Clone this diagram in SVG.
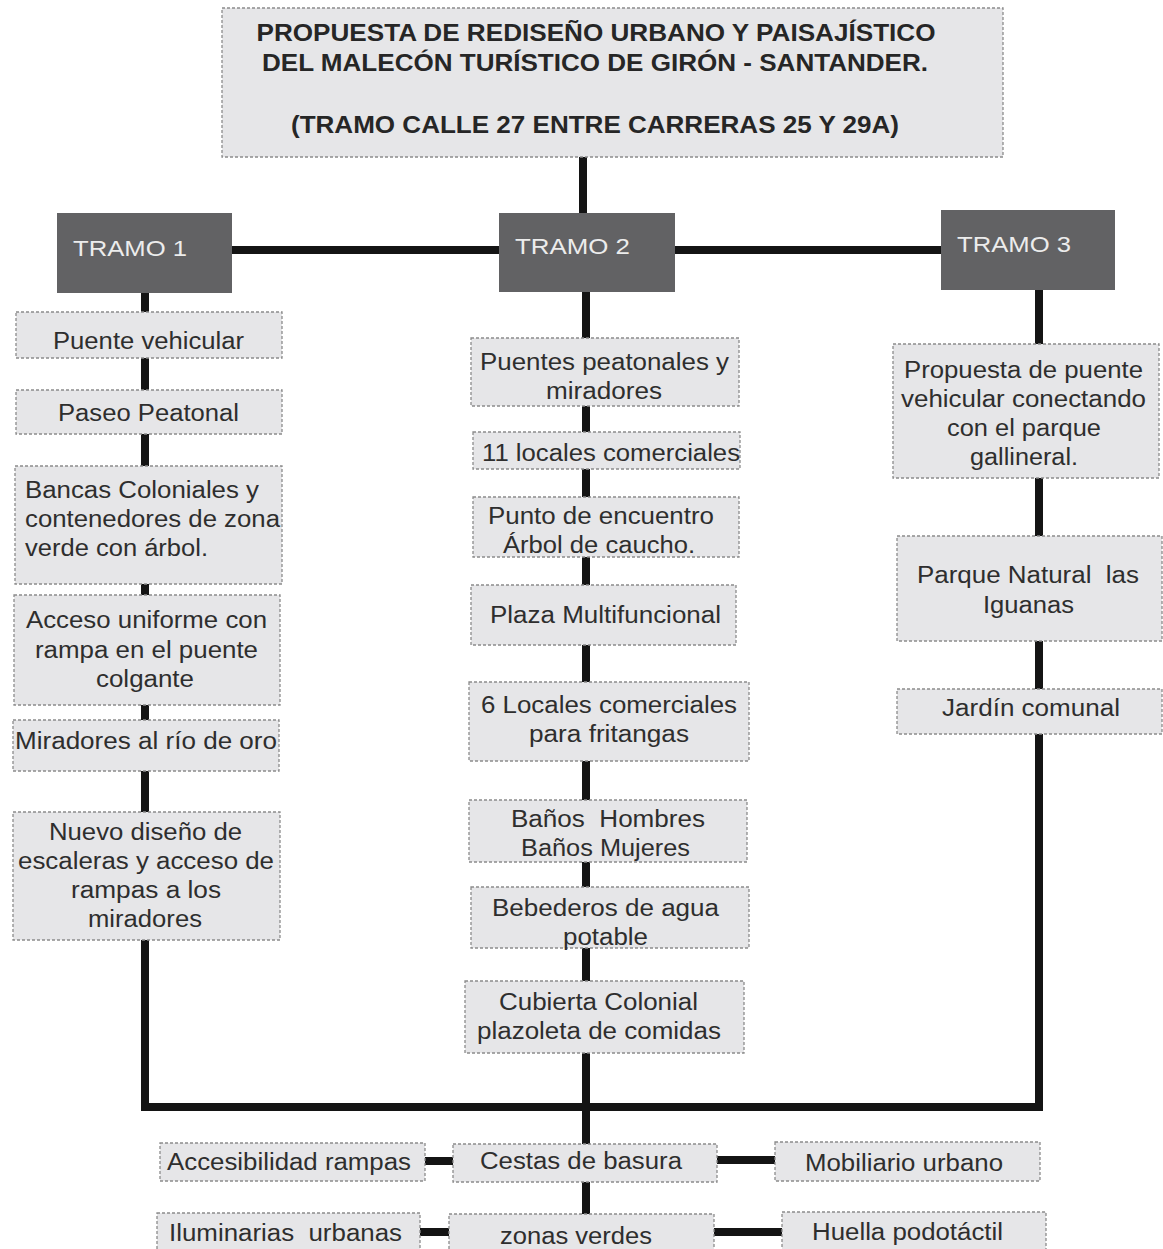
<svg xmlns="http://www.w3.org/2000/svg" width="1163" height="1249" viewBox="0 0 1163 1249">
<style>
.bx{fill:#e6e6e8;stroke:#8c8c8c;stroke-width:1.3;stroke-dasharray:3 2}
.tr{fill:#626264}
.t{font-family:"Liberation Sans",Arial,sans-serif;font-size:23px;fill:#2e2e2e;text-anchor:middle}
.tl{text-anchor:start}
.tt{font-family:"Liberation Sans",Arial,sans-serif;font-size:22px;fill:#ececec}
.h{font-family:"Liberation Sans",Arial,sans-serif;font-size:24px;font-weight:bold;fill:#262626;text-anchor:middle}
.c{stroke:#141414;stroke-width:8;fill:none}
</style>
<rect width="1163" height="1249" fill="#ffffff"/>
<g id="connectors">
<line class="c" x1="583" y1="157" x2="583" y2="250"/>
<line class="c" x1="232" y1="250" x2="941" y2="250"/>
<line class="c" x1="145" y1="293" x2="145" y2="1111"/>
<line class="c" x1="586" y1="292" x2="586" y2="1249"/>
<line class="c" x1="1039" y1="290" x2="1039" y2="1111"/>
<line class="c" x1="141" y1="1107" x2="1043" y2="1107"/>
<line class="c" x1="425" y1="1161" x2="453" y2="1161"/>
<line class="c" x1="717" y1="1160" x2="775" y2="1160"/>
<line class="c" x1="420" y1="1232" x2="449" y2="1232"/>
<line class="c" x1="714" y1="1232" x2="782" y2="1232"/>
</g>
<g id="title">
<rect class="bx" x="222" y="8" width="781" height="149"/>
<text class="h" x="596" y="41" textLength="679" lengthAdjust="spacingAndGlyphs">PROPUESTA DE REDISEÑO URBANO Y PAISAJÍSTICO</text>
<text class="h" x="595" y="71" textLength="666" lengthAdjust="spacingAndGlyphs">DEL MALECÓN TURÍSTICO DE GIRÓN - SANTANDER.</text>
<text class="h" x="595" y="133" textLength="608" lengthAdjust="spacingAndGlyphs">(TRAMO CALLE 27 ENTRE CARRERAS 25 Y 29A)</text>
</g>
<g id="tramo1">
<rect class="tr" x="57" y="213" width="175" height="80"/>
<text class="tt" x="73" y="256" textLength="114" lengthAdjust="spacingAndGlyphs">TRAMO 1</text>
</g>
<g id="tramo2">
<rect class="tr" x="499" y="213" width="176" height="79"/>
<text class="tt" x="515" y="254" textLength="115" lengthAdjust="spacingAndGlyphs">TRAMO 2</text>
</g>
<g id="tramo3">
<rect class="tr" x="941" y="210" width="174" height="80"/>
<text class="tt" x="957" y="252" textLength="114" lengthAdjust="spacingAndGlyphs">TRAMO 3</text>
</g>
<g id="puente-vehicular">
<rect class="bx" x="16" y="312" width="266" height="46"/>
<text class="t" x="148.5" y="349" textLength="191" lengthAdjust="spacingAndGlyphs">Puente vehicular</text>
</g>
<g id="paseo-peatonal">
<rect class="bx" x="16" y="390" width="266" height="44"/>
<text class="t" x="148.5" y="421" textLength="181" lengthAdjust="spacingAndGlyphs">Paseo Peatonal</text>
</g>
<g id="bancas">
<rect class="bx" x="15" y="466" width="267" height="118"/>
<text class="t tl" x="25" y="498" textLength="234" lengthAdjust="spacingAndGlyphs">Bancas Coloniales y</text>
<text class="t tl" x="25" y="527" textLength="255" lengthAdjust="spacingAndGlyphs">contenedores de zona</text>
<text class="t tl" x="25" y="556" textLength="183" lengthAdjust="spacingAndGlyphs">verde con árbol.</text>
</g>
<g id="acceso">
<rect class="bx" x="14" y="595" width="266" height="110"/>
<text class="t" x="146.5" y="628" textLength="241" lengthAdjust="spacingAndGlyphs">Acceso uniforme con</text>
<text class="t" x="146.5" y="658" textLength="223" lengthAdjust="spacingAndGlyphs">rampa en el puente</text>
<text class="t" x="145" y="687" textLength="98" lengthAdjust="spacingAndGlyphs">colgante</text>
</g>
<g id="miradores-rio">
<rect class="bx" x="13" y="720" width="266" height="51"/>
<text class="t" x="146" y="749" textLength="262" lengthAdjust="spacingAndGlyphs">Miradores al río de oro</text>
</g>
<g id="escaleras">
<rect class="bx" x="13" y="812" width="267" height="128"/>
<text class="t" x="145.5" y="840" textLength="193" lengthAdjust="spacingAndGlyphs">Nuevo diseño de</text>
<text class="t" x="146" y="869" textLength="256" lengthAdjust="spacingAndGlyphs">escaleras y acceso de</text>
<text class="t" x="146" y="898" textLength="150" lengthAdjust="spacingAndGlyphs">rampas a los</text>
<text class="t" x="145" y="927" textLength="114" lengthAdjust="spacingAndGlyphs">miradores</text>
</g>
<g id="puentes-peatonales">
<rect class="bx" x="471" y="338" width="268" height="68"/>
<text class="t" x="604.5" y="370" textLength="249" lengthAdjust="spacingAndGlyphs">Puentes peatonales y</text>
<text class="t" x="604" y="399" textLength="116" lengthAdjust="spacingAndGlyphs">miradores</text>
</g>
<g id="locales-11">
<rect class="bx" x="473" y="432" width="267" height="37"/>
<text class="t" x="611" y="461" textLength="258" lengthAdjust="spacingAndGlyphs">11 locales comerciales</text>
</g>
<g id="punto-encuentro">
<rect class="bx" x="473" y="497" width="266" height="60"/>
<text class="t" x="601" y="524" textLength="226" lengthAdjust="spacingAndGlyphs">Punto de encuentro</text>
<text class="t" x="599" y="553" textLength="192" lengthAdjust="spacingAndGlyphs">Árbol de caucho.</text>
</g>
<g id="plaza">
<rect class="bx" x="471" y="585" width="265" height="60"/>
<text class="t" x="605.5" y="623" textLength="231" lengthAdjust="spacingAndGlyphs">Plaza Multifuncional</text>
</g>
<g id="locales-6">
<rect class="bx" x="469" y="682" width="280" height="79"/>
<text class="t" x="609" y="713" textLength="256" lengthAdjust="spacingAndGlyphs">6 Locales comerciales</text>
<text class="t" x="609" y="742" textLength="160" lengthAdjust="spacingAndGlyphs">para fritangas</text>
</g>
<g id="banos">
<rect class="bx" x="469" y="800" width="278" height="62"/>
<text class="t" x="608" y="827" textLength="194" lengthAdjust="spacingAndGlyphs" xml:space="preserve">Baños  Hombres</text>
<text class="t" x="605.5" y="856" textLength="169" lengthAdjust="spacingAndGlyphs">Baños Mujeres</text>
</g>
<g id="bebederos">
<rect class="bx" x="471" y="887" width="278" height="61"/>
<text class="t" x="605.5" y="916" textLength="227" lengthAdjust="spacingAndGlyphs">Bebederos de agua</text>
<text class="t" x="605.5" y="945" textLength="85" lengthAdjust="spacingAndGlyphs">potable</text>
</g>
<g id="cubierta">
<rect class="bx" x="465" y="981" width="279" height="72"/>
<text class="t" x="598.5" y="1010" textLength="199" lengthAdjust="spacingAndGlyphs">Cubierta Colonial</text>
<text class="t" x="599" y="1039" textLength="244" lengthAdjust="spacingAndGlyphs">plazoleta de comidas</text>
</g>
<g id="propuesta-puente">
<rect class="bx" x="893" y="344" width="266" height="134"/>
<text class="t" x="1023.5" y="378" textLength="239" lengthAdjust="spacingAndGlyphs">Propuesta de puente</text>
<text class="t" x="1023.5" y="407" textLength="245" lengthAdjust="spacingAndGlyphs">vehicular conectando</text>
<text class="t" x="1024" y="436" textLength="154" lengthAdjust="spacingAndGlyphs">con el parque</text>
<text class="t" x="1024" y="465" textLength="108" lengthAdjust="spacingAndGlyphs">gallineral.</text>
</g>
<g id="parque-natural">
<rect class="bx" x="897" y="536" width="265" height="105"/>
<text class="t" x="1028" y="583" textLength="222" lengthAdjust="spacingAndGlyphs" xml:space="preserve">Parque Natural  las</text>
<text class="t" x="1028.5" y="613" textLength="91" lengthAdjust="spacingAndGlyphs">Iguanas</text>
</g>
<g id="jardin">
<rect class="bx" x="897" y="689" width="265" height="45"/>
<text class="t" x="1031" y="716" textLength="178" lengthAdjust="spacingAndGlyphs">Jardín comunal</text>
</g>
<g id="accesibilidad">
<rect class="bx" x="160" y="1143" width="265" height="38"/>
<text class="t" x="289" y="1170" textLength="244" lengthAdjust="spacingAndGlyphs">Accesibilidad rampas</text>
</g>
<g id="cestas">
<rect class="bx" x="453" y="1144" width="264" height="38"/>
<text class="t" x="581" y="1169" textLength="202" lengthAdjust="spacingAndGlyphs">Cestas de basura</text>
</g>
<g id="mobiliario">
<rect class="bx" x="775" y="1142" width="265" height="39"/>
<text class="t" x="904" y="1171" textLength="198" lengthAdjust="spacingAndGlyphs">Mobiliario urbano</text>
</g>
<g id="iluminarias">
<rect class="bx" x="157" y="1213" width="263" height="40"/>
<text class="t" x="285.5" y="1241" textLength="233" lengthAdjust="spacingAndGlyphs" xml:space="preserve">Iluminarias  urbanas</text>
</g>
<g id="zonas-verdes">
<rect class="bx" x="449" y="1214" width="265" height="40"/>
<text class="t" x="576" y="1244" textLength="152" lengthAdjust="spacingAndGlyphs">zonas verdes</text>
</g>
<g id="huella">
<rect class="bx" x="782" y="1212" width="264" height="41"/>
<text class="t" x="907.5" y="1240" textLength="191" lengthAdjust="spacingAndGlyphs">Huella podotáctil</text>
</g>
</svg>
